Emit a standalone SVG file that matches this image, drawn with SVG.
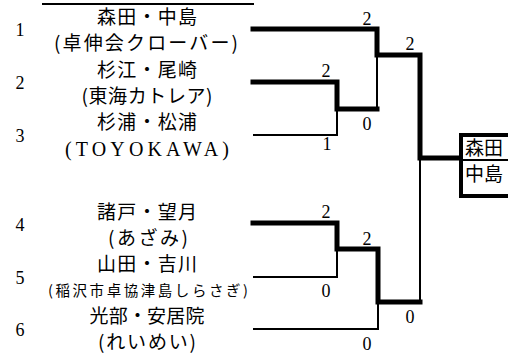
<svg xmlns="http://www.w3.org/2000/svg" width="508" height="353" viewBox="0 0 508 353">
<style>
.n{font-family:'Liberation Serif','DejaVu Serif',serif;font-size:18px;font-weight:normal;fill:#000;text-anchor:middle}
.t{font-family:'Noto Sans CJK JP','Noto Sans',sans-serif;font-size:19px;font-weight:normal;fill:#000;text-anchor:middle}
.s{font-size:14.5px}
.thick{stroke:#000;stroke-width:5;fill:none;stroke-linecap:square;stroke-linejoin:miter}
.thin{stroke:#000;stroke-width:2;fill:none}
</style>
<rect width="508" height="353" fill="#fff"/>
<line x1="42" y1="4" x2="254" y2="4" class="thin"/>
<g id="team1">
<text class="n" x="20" y="36">1</text>
<text class="t" x="147" y="24" textLength="100">森田・中島</text>
<text class="t" x="146" y="50" textLength="184">(卓伸会クローバー)</text>
</g>
<g id="team2">
<text class="n" x="20" y="89">2</text>
<text class="t" x="147" y="77" textLength="100">杉江・尾崎</text>
<text class="t" x="147" y="103" textLength="131">(東海カトレア)</text>
</g>
<g id="team3">
<text class="n" x="20" y="142">3</text>
<text class="t" x="147" y="129" textLength="100">杉浦・松浦</text>
<text class="n" x="147" y="156" style="font-size:20px" textLength="164">(TOYOKAWA)</text>
</g>
<g id="team4">
<text class="n" x="20" y="231">4</text>
<text class="t" x="147" y="219" textLength="100">諸戸・望月</text>
<text class="t" x="148" y="245" textLength="80">(あざみ)</text>
</g>
<g id="team5">
<text class="n" x="20" y="284">5</text>
<text class="t" x="147" y="271" textLength="100">山田・吉川</text>
<text class="t s" x="148" y="296" textLength="200">(稲沢市卓協津島しらさぎ)</text>
</g>
<g id="team6">
<text class="n" x="20" y="336">6</text>
<text class="t" x="147" y="323" textLength="115">光部・安居院</text>
<text class="t" x="147" y="349" textLength="98">(れいめい)</text>
</g>
<g id="connectors">
<polyline class="thick" points="253,29 377,29 377,55 420,55 420,158 460,158"/>
<polyline class="thick" points="253,82 337,82 337,109 377,109"/>
<polyline class="thin" points="253,135 337,135 337,109"/>
<line class="thin" x1="377" y1="55" x2="377" y2="109"/>
<line class="thin" x1="420" y1="158" x2="420" y2="302"/>
<polyline class="thick" points="253,223 337,223 337,249 378,249 378,302 420,302"/>
<polyline class="thin" points="253,277 337,277 337,249"/>
<polyline class="thin" points="253,329 378,329 378,302"/>
</g>
<g id="scores">
<text class="n" x="367" y="25">2</text>
<text class="n" x="410" y="50">2</text>
<text class="n" x="326" y="77">2</text>
<text class="n" x="367" y="130">0</text>
<text class="n" x="327" y="150">1</text>
<text class="n" x="326" y="218">2</text>
<text class="n" x="367" y="245">2</text>
<text class="n" x="326" y="297">0</text>
<text class="n" x="410" y="323">0</text>
<text class="n" x="367" y="350">0</text>
</g>
<g id="winner">
<polyline points="510,135 461,135 461,196 510,196" fill="none" stroke="#000" stroke-width="4"/>
<line x1="461" y1="160" x2="510" y2="160" class="thin"/>
<text class="t" x="484" y="155">森田</text>
<text class="t" x="484" y="181">中島</text>
</g>
</svg>
